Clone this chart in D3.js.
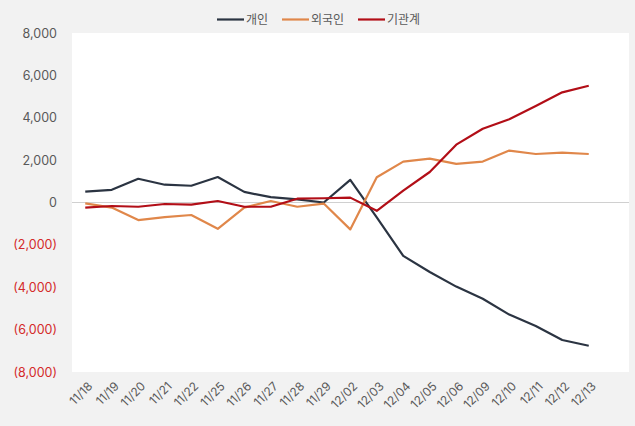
<!DOCTYPE html>
<html><head><meta charset="utf-8">
<script src="https://cdn.jsdelivr.net/npm/d3@7"></script>
<style>html,body{margin:0;padding:0;background:#f2f2f2;}svg{display:block;font-family:"Noto Sans CJK KR","Noto Sans",sans-serif;}</style>
</head><body><svg id="c" width="635" height="426"></svg>
<script>
const categories = ["11/18","11/19","11/20","11/21","11/22","11/25","11/26","11/27","11/28","11/29","12/02","12/03","12/04","12/05","12/06","12/09","12/10","12/11","12/12","12/13"];
const individual = [510, 600, 1120, 840, 790, 1200, 500, 250, 150, 0, 1070, -700, -2520, -3280, -3970, -4540, -5290, -5830, -6490, -6760];
const foreign = [-40, -240, -830, -690, -590, -1240, -240, 70, -200, -50, -1270, 1190, 1930, 2070, 1820, 1930, 2450, 2290, 2350, 2290];
const institution = [-240, -165, -200, -70, -100, 70, -200, -200, 180, 200, 230, -390, 560, 1440, 2730, 3480, 3930, 4550, 5200, 5510];
const yTicks = [8000, 6000, 4000, 2000, 0, -2000, -4000, -6000, -8000];
const seriesNames = ["개인", "외국인", "기관계"];
const seriesColors = ["#2b3442", "#e0874a", "#b20e17"];
const seriesData = [individual, foreign, institution];

const svg = d3.select("#c");
const plot = {left: 72, right: 629, top: 33, bottom: 372};
svg.append("rect").attr("x", plot.left).attr("y", plot.top)
  .attr("width", plot.right - plot.left).attr("height", plot.bottom - plot.top).attr("fill", "#ffffff");

const x = d3.scaleBand().domain(categories).range([72, 72 + 26.5 * categories.length]);
const y = d3.scaleLinear().domain([-8000, 8000]).range([plot.bottom, plot.top]);

// zero line
svg.append("line").attr("x1", plot.left).attr("x2", plot.right)
  .attr("y1", y(0)).attr("y2", y(0)).attr("stroke", "#d0d0d0").attr("stroke-width", 1);

// y axis
const fmt = d3.format(",");
const yAxis = svg.append("g").attr("transform", `translate(${plot.left - 15},0)`)
  .call(d3.axisLeft(y).tickValues(yTicks).tickSize(0).tickPadding(0)
    .tickFormat(d => d < 0 ? "(" + fmt(-d) + ")" : fmt(d)));
yAxis.select(".domain").remove();
yAxis.selectAll("text").attr("font-size", 12.5).attr("font-family", "Inter, 'Noto Sans', sans-serif")
  .attr("fill", d => d < 0 ? "#d42a2a" : "#595959");

// x axis
const xAxis = svg.append("g").attr("transform", `translate(0,${plot.bottom})`)
  .call(d3.axisBottom(x).tickSize(0).tickPadding(0));
xAxis.select(".domain").remove();
xAxis.selectAll("text").attr("font-size", 12).attr("font-family", "Inter, 'Noto Sans', sans-serif")
  .attr("fill", "#595959").attr("text-anchor", "end").attr("dy", "0.35em")
  .attr("transform", "translate(5,12) rotate(-45)");

// lines
const line = d3.line().x((d, i) => x(categories[i]) + x.bandwidth() / 2).y(d => y(d));
seriesData.forEach((data, k) => {
  svg.append("path").datum(data).attr("d", line).attr("fill", "none")
    .attr("stroke", seriesColors[k]).attr("stroke-width", 2.2).attr("stroke-linejoin", "round");
});

// legend
const legendX = [217, 282, 358];
const lg = svg.append("g");
seriesNames.forEach((name, k) => {
  lg.append("line").attr("x1", legendX[k]).attr("x2", legendX[k] + 27).attr("y1", 19.5).attr("y2", 19.5)
    .attr("stroke", seriesColors[k]).attr("stroke-width", 2.2);
  lg.append("text").attr("x", legendX[k] + 29).attr("y", 19.5).attr("dy", "0.35em")
    .attr("font-size", 12).attr("fill", "#595959").text(name);
});
</script></body></html>
